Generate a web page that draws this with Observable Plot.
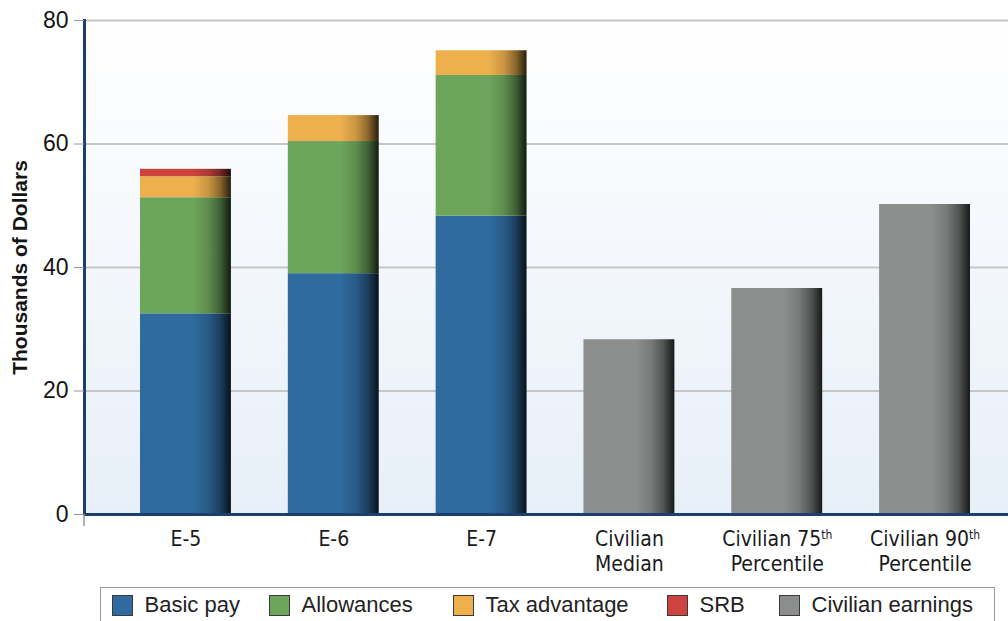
<!DOCTYPE html>
<html>
<head>
<meta charset="utf-8">
<script src="https://cdn.jsdelivr.net/npm/d3@7"></script>
<script src="https://cdn.jsdelivr.net/npm/@observablehq/plot@0.6"></script>
<style>
  body { margin: 0; background: #ffffff; font-family: "Liberation Sans", Arial, sans-serif; }
  #wrap { position: relative; width: 1008px; height: 621px; overflow: hidden; }
  #chart svg { display: block; }
  #legend { position: absolute; left: 100px; top: 587px; width: 895px; height: 60px;
            border: 1.5px solid #9a9a9a; box-sizing: border-box; background: #fff; }
  .item { position: absolute; top: 6px; height: 22px; display: flex; align-items: center;
          font-size: 22px; color: #222; white-space: nowrap; }
  .sw { width: 21px; height: 21px; border: 1.5px solid #3a3a3a; box-sizing: border-box; margin-right: 12px; }
</style>
</head>
<body>
<div id="wrap">
  <div id="chart"></div>
  <div id="legend"></div>
</div>
<script>
// ---- data ----
const categories = ["E-5", "E-6", "E-7", "Civilian Median", "Civilian 75th Percentile", "Civilian 90th Percentile"];
const xTickLabels = ["E-5", "E-6", "E-7", "Civilian\nMedian", "Civilian 75th\nPercentile", "Civilian 90th\nPercentile"];
const seriesNames = ["Basic pay", "Allowances", "Tax advantage", "SRB", "Civilian earnings"];
const seriesColors = ["#2f6b9e", "#6ea55c", "#edb04d", "#cc433f", "#8b8e8d"];
const militaryGrades = ["E-5", "E-6", "E-7"];
const basicPay = [32.5, 39.0, 48.3];
const allowances = [18.8, 21.4, 22.8];
const taxAdvantage = [3.4, 4.2, 4.0];
const srb = [1.2, 0, 0];
const civilianGroups = ["Civilian Median", "Civilian 75th Percentile", "Civilian 90th Percentile"];
const civilianEarnings = [28.3, 36.6, 50.2];
const yTicks = [0, 20, 40, 60, 80];
const yTitle = "Thousands of Dollars";

// ---- table ----
const rows = [];
militaryGrades.forEach((g, i) => {
  rows.push({cat: g, series: "Basic pay", value: basicPay[i]});
  rows.push({cat: g, series: "Allowances", value: allowances[i]});
  rows.push({cat: g, series: "Tax advantage", value: taxAdvantage[i]});
  rows.push({cat: g, series: "SRB", value: srb[i]});
});
civilianGroups.forEach((g, i) => {
  rows.push({cat: g, series: "Civilian earnings", value: civilianEarnings[i]});
});
const gradId = s => `grad-${seriesNames.indexOf(s)}`;

const svg = Plot.plot({
  width: 1008,
  height: 585,
  marginLeft: 84,
  marginRight: 0,
  marginTop: 20,
  marginBottom: 71,
  style: {fontFamily: "Liberation Sans, Arial, sans-serif", fontSize: "23px", color: "#141414", background: "transparent", overflow: "visible"},
  x: {type: "band", domain: categories, range: [140, 970], paddingInner: 0.385, paddingOuter: 0, round: false},
  y: {domain: [0, 80]},
  color: {type: "identity"},
  marks: [
    Plot.frame({fill: "url(#bgGrad)", stroke: "none"}),
    Plot.ruleY(yTicks.filter(d => d > 0), {stroke: "#c6c6c6", strokeWidth: 2}),
    Plot.barY(rows, {x: "cat", y: "value", fill: d => `url(#${gradId(d.series)})`, z: "series"}),
    Plot.frame({anchor: "left", stroke: "#1c3f6e", strokeWidth: 3}),
    Plot.frame({anchor: "bottom", stroke: "#1c3f6e", strokeWidth: 3}),
    Plot.axisY({ticks: yTicks, tickSize: 10, tickPadding: 6, fontSize: 23, stroke: "#9a9a9a", fill: "#141414", label: null}),
    Plot.axisX({tickSize: 0, tickPadding: 13, fontSize: 21, lineHeight: 1.22, fill: "#1a1a1a",
                fontFamily: "DejaVu Sans Condensed, Liberation Sans Narrow, sans-serif",
                tickFormat: c => xTickLabels[categories.indexOf(c)], label: null}),
    Plot.text([yTitle], {text: d => d, frameAnchor: "left", textAnchor: "middle", rotate: -90, dx: -64,
                         fontSize: 21, fontWeight: "bold", fill: "#141414"})
  ]
});

// gradients
const defs = d3.select(svg).insert("defs", ":first-child");
const bg = defs.append("linearGradient").attr("id", "bgGrad").attr("x1", 0).attr("x2", 0).attr("y1", 0).attr("y2", 1);
bg.append("stop").attr("offset", 0).attr("stop-color", "#ffffff");
bg.append("stop").attr("offset", 1).attr("stop-color", "#e7eff8");
seriesNames.forEach((s, i) => {
  const base = d3.color(seriesColors[i]);
  const g = defs.append("linearGradient").attr("id", gradId(s)).attr("x1", 0).attr("x2", 1).attr("y1", 0).attr("y2", 0);
  [[0, 0], [0.58, 0], [0.75, 0.45], [0.88, 1.5], [1, 5]].forEach(([o, k]) => {
    g.append("stop").attr("offset", o).attr("stop-color", base.darker(k).formatHex());
  });
});

// superscripts for "th"
d3.select(svg).selectAll("tspan").each(function() {
  const t = d3.select(this);
  if (t.selectAll("tspan").size()) return;
  const m = /^(.*\d)(th)$/.exec(t.text());
  if (m) {
    t.text(m[1]);
    t.append("tspan").attr("baseline-shift", "super").attr("font-size", 12).text(m[2]);
  }
});

// small tick below the origin, as in the reference
d3.select(svg).append("line")
  .attr("x1", 84).attr("x2", 84).attr("y1", 514).attr("y2", 526)
  .attr("stroke", "#9a9a9a").attr("stroke-width", 1.5);

document.getElementById("chart").appendChild(svg);

// legend
const legendLeft = [112, 269, 453, 667, 779];
const legend = document.getElementById("legend");
seriesNames.forEach((s, i) => {
  const it = document.createElement("div");
  it.className = "item";
  it.style.left = (legendLeft[i] - 101.5) + "px";
  const sw = document.createElement("div");
  sw.className = "sw";
  sw.style.background = seriesColors[i];
  const tx = document.createElement("span");
  tx.textContent = s;
  it.appendChild(sw);
  it.appendChild(tx);
  legend.appendChild(it);
});
</script>
</body>
</html>
